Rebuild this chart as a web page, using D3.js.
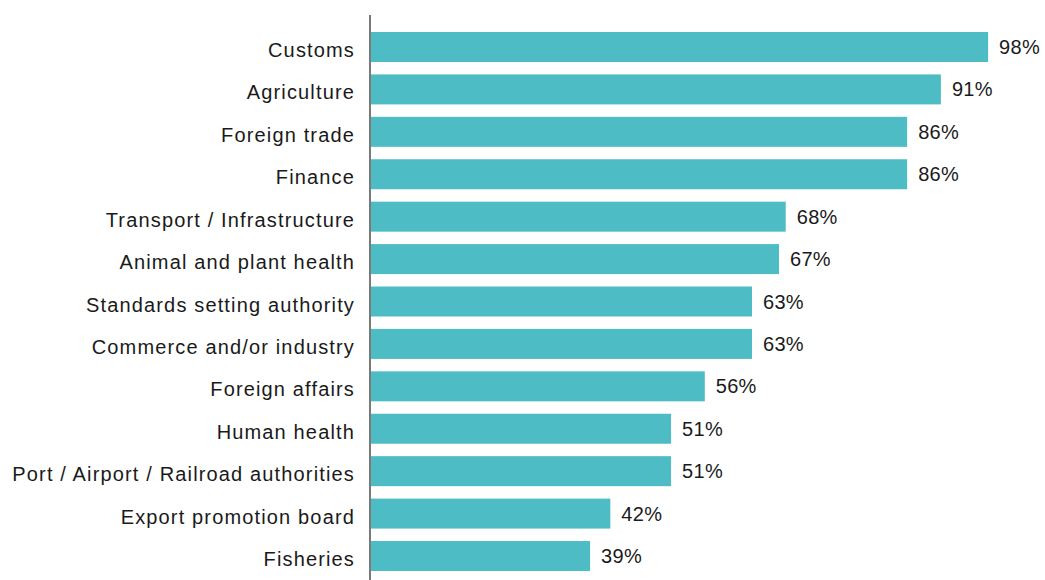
<!DOCTYPE html>
<html>
<head>
<meta charset="utf-8">
<script src="https://cdn.jsdelivr.net/npm/d3@7"></script>
<style>
  html, body { margin: 0; padding: 0; background: #ffffff; }
  svg { display: block; }
  text { font-family: "Liberation Sans", Arial, Helvetica, sans-serif; fill: #1a1a1a; }
</style>
</head>
<body>
<svg id="chart" width="1045" height="580"></svg>
<script>
// Agencies involved, share of respondents (%)
const categories = [
  "Customs",
  "Agriculture",
  "Foreign trade",
  "Finance",
  "Transport / Infrastructure",
  "Animal and plant health",
  "Standards setting authority",
  "Commerce and/or industry",
  "Foreign affairs",
  "Human health",
  "Port / Airport / Railroad authorities",
  "Export promotion board",
  "Fisheries"
];
const values = [98, 91, 86, 86, 68, 67, 63, 63, 56, 51, 51, 42, 39];
const valueLabels = values.map(v => v + "%");

const W = 1045, H = 580;
const svg = d3.select("#chart");

const axisX = 371;
const x = d3.scaleLinear().domain([0, 100]).range([327, 1001.6]);
const y = d3.scaleBand()
  .domain(categories)
  .range([32, 571])
  .paddingInner(0.293)
  .paddingOuter(0);

// bars
svg.append("g")
  .selectAll("rect")
  .data(values)
  .join("rect")
  .attr("x", axisX)
  .attr("y", (d, i) => y(categories[i]))
  .attr("width", d => x(d) - axisX)
  .attr("height", y.bandwidth())
  .attr("fill", "#4dbcc5");

// vertical axis line
svg.append("line")
  .attr("x1", 370).attr("x2", 370)
  .attr("y1", 15).attr("y2", H)
  .attr("stroke", "#7a7a7a")
  .attr("stroke-width", 2);

// category labels
svg.append("g")
  .selectAll("text")
  .data(categories)
  .join("text")
  .attr("x", 355)
  .attr("y", d => y(d) + y.bandwidth() / 2 + 3)
  .attr("text-anchor", "end")
  .attr("dominant-baseline", "central")
  .style("font-size", "20px")
  .style("letter-spacing", "1.15px")
  .text(d => d);

// value labels
svg.append("g")
  .selectAll("text")
  .data(values)
  .join("text")
  .attr("x", d => x(d) + 11)
  .attr("y", (d, i) => y(categories[i]) + y.bandwidth() / 2)
  .attr("dominant-baseline", "central")
  .style("font-size", "20px")
  .style("letter-spacing", "0.3px")
  .text((d, i) => valueLabels[i]);
</script>
</body>
</html>
